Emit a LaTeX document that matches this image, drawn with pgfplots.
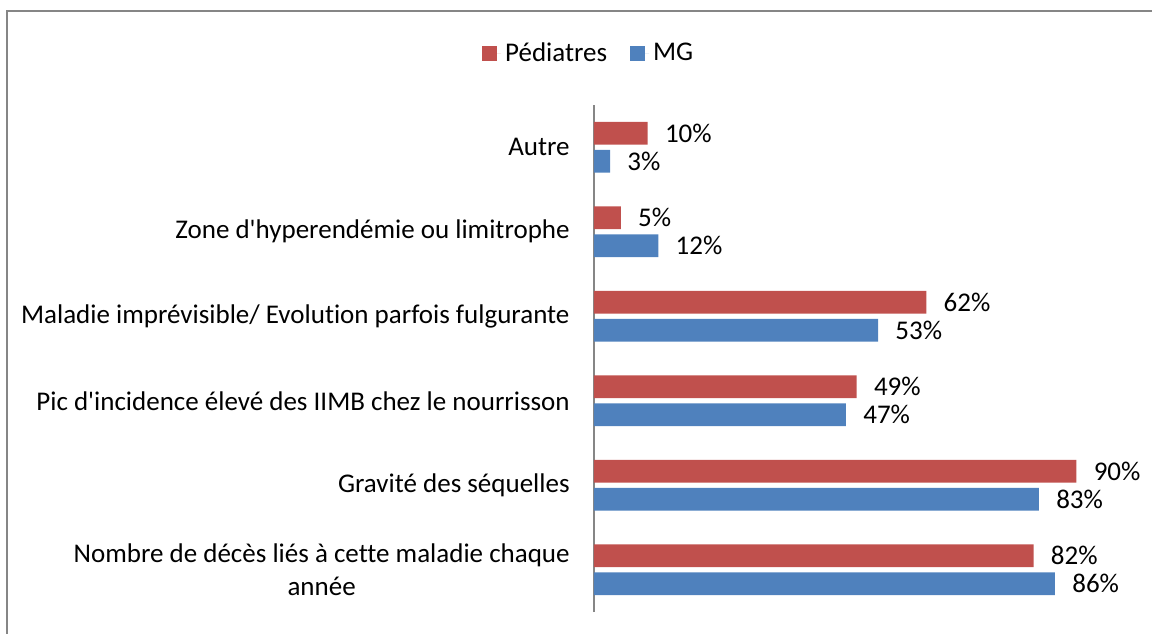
\documentclass[border=0pt]{standalone}
\usepackage{pgfplots}
\pgfplotsset{compat=1.18}
\usepackage{fontspec}
\setmainfont{Carlito}[Ligatures={TeXOff,CommonOff}]
\definecolor{cred}{HTML}{C0504D}
\definecolor{cblue}{HTML}{4F81BD}
\definecolor{cgray}{HTML}{868686}
\begin{document}
\begin{tikzpicture}
\begin{axis}[
  at={(297pt,10.5pt)}, anchor=south west,
  scale only axis, width=268pt, height=253.5pt,
  xbar, xmin=0, xmax=100, ymin=-0.5, ymax=5.5,
  bar width=0.268, 
  hide x axis,
  axis y line*=left,
  y axis line style={cgray, line width=1pt},
  ytick={0,1,2,3,4,5},
  yticklabels={{Nombre de décès liés à cette maladie chaque\\année},
    {Gravité des séquelles},
    {Pic d'incidence élevé des IIMB chez le nourrisson},
    {Maladie imprévisible/ Evolution parfois fulgurante},
    {Zone d'hyperendémie ou limitrophe},
    {Autre}},
  yticklabel style={font=\fontsize{13.5}{16.5}\selectfont, align=center, inner sep=0pt, xshift=-12pt},
  major tick length=0pt,
  ytick style={draw=none},
  point meta=x,
  nodes near coords={\pgfmathprintnumber[assume math mode=true]{\pgfplotspointmeta}\%},
  every node near coord/.append style={font=\fontsize{13.5}{16.5}\selectfont, text=black, anchor=west, inner sep=0pt, xshift=8.5pt},
  clip=false,
  legend style={at={(-0.008,1.102)}, anchor=center, draw=none, legend columns=2,
    font=\fontsize{13.5}{16.5}\selectfont,
    /tikz/every even column/.append style={column sep=9.5pt}},
  legend image code/.code={\path (0pt,0pt) -- (9.5pt,0pt);\fill[#1] (0pt,-3.7pt) rectangle (7.4pt,3.7pt);},
  legend cell align=left,
]
\addplot[fill=cred, draw=none, bar shift=0.166] coordinates {(82,0) (90,1) (49,2) (62,3) (5,4) (10,5)};
\addplot[fill=cblue, draw=none, bar shift=-0.166] coordinates {(86,0) (83,1) (47,2) (53,3) (12,4) (3,5)};
\legend{Pédiatres, MG}
\end{axis}
\pgfresetboundingbox
\useasboundingbox (0,0) rectangle (576pt,316.5pt);
\draw[cgray, line width=1pt] (3.25pt,-20pt) -- (3.25pt,311pt) -- (620pt,311pt);
\end{tikzpicture}
\end{document}
